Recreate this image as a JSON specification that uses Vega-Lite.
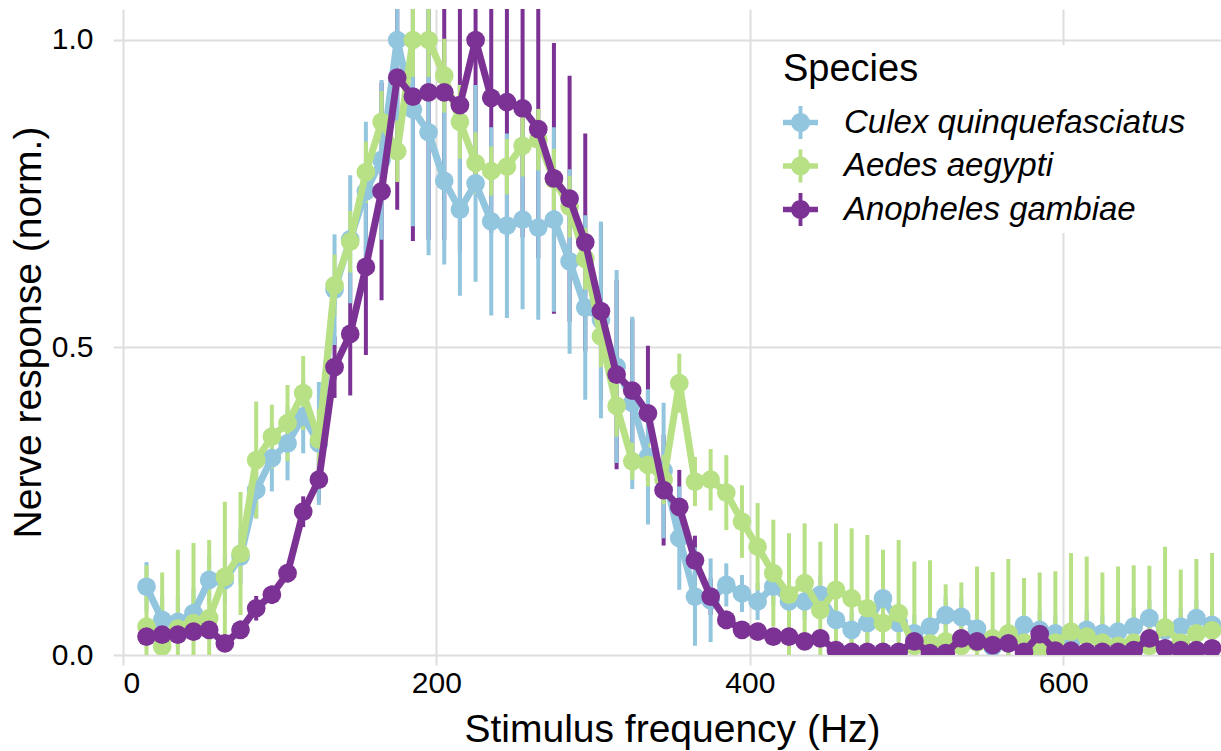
{
  "$schema": "https://vega.github.io/schema/vega-lite/v6.json",
  "width": 1098,
  "height": 646,
  "autosize": "none",
  "padding": {"left": 123, "top": 9, "right": 0, "bottom": 96},
  "background": "white",
  "config": {
    "view": {"stroke": null},
    "font": "Liberation Sans",
    "axis": {
      "grid": true, "gridColor": "#dedede", "gridWidth": 2, "domain": false,
      "ticks": true, "tickColor": "#dedede", "tickWidth": 2, "tickSize": 10,
      "labelFont": "Liberation Sans", "labelFontSize": 30, "labelColor": "#000000",
      "titleFont": "Liberation Sans", "titleFontSize": 39, "titleFontWeight": "normal", "titleColor": "#000000"
    },
    "axisX": {"labelPadding": 3, "titlePadding": 12},
    "axisY": {"labelPadding": 20, "titlePadding": 3}
  },
  "datasets": {
    "blue": [
      {"species":"Culex quinquefasciatus","f":15,"y":0.111,"lo":0.071,"hi":0.151},
      {"species":"Culex quinquefasciatus","f":25,"y":0.057,"lo":0.017,"hi":0.097},
      {"species":"Culex quinquefasciatus","f":35,"y":0.054,"lo":0.014,"hi":0.094},
      {"species":"Culex quinquefasciatus","f":45,"y":0.068,"lo":0.028,"hi":0.108},
      {"species":"Culex quinquefasciatus","f":55,"y":0.122,"lo":0.082,"hi":0.162},
      {"species":"Culex quinquefasciatus","f":65,"y":0.122,"lo":0.082,"hi":0.162},
      {"species":"Culex quinquefasciatus","f":75,"y":0.160,"lo":0.115,"hi":0.205},
      {"species":"Culex quinquefasciatus","f":85,"y":0.268,"lo":0.222,"hi":0.314},
      {"species":"Culex quinquefasciatus","f":95,"y":0.320,"lo":0.266,"hi":0.374},
      {"species":"Culex quinquefasciatus","f":105,"y":0.344,"lo":0.284,"hi":0.404},
      {"species":"Culex quinquefasciatus","f":115,"y":0.388,"lo":0.328,"hi":0.448},
      {"species":"Culex quinquefasciatus","f":125,"y":0.344,"lo":0.244,"hi":0.444},
      {"species":"Culex quinquefasciatus","f":135,"y":0.594,"lo":0.504,"hi":0.684},
      {"species":"Culex quinquefasciatus","f":145,"y":0.676,"lo":0.572,"hi":0.780},
      {"species":"Culex quinquefasciatus","f":155,"y":0.754,"lo":0.641,"hi":0.867},
      {"species":"Culex quinquefasciatus","f":165,"y":0.805,"lo":0.675,"hi":0.935},
      {"species":"Culex quinquefasciatus","f":175,"y":1.000,"lo":0.850,"hi":1.150},
      {"species":"Culex quinquefasciatus","f":185,"y":0.887,"lo":0.697,"hi":1.077},
      {"species":"Culex quinquefasciatus","f":195,"y":0.850,"lo":0.650,"hi":1.050},
      {"species":"Culex quinquefasciatus","f":205,"y":0.771,"lo":0.635,"hi":0.907},
      {"species":"Culex quinquefasciatus","f":215,"y":0.724,"lo":0.584,"hi":0.864},
      {"species":"Culex quinquefasciatus","f":225,"y":0.767,"lo":0.607,"hi":0.927},
      {"species":"Culex quinquefasciatus","f":235,"y":0.705,"lo":0.552,"hi":0.858},
      {"species":"Culex quinquefasciatus","f":245,"y":0.698,"lo":0.548,"hi":0.848},
      {"species":"Culex quinquefasciatus","f":255,"y":0.708,"lo":0.562,"hi":0.854},
      {"species":"Culex quinquefasciatus","f":265,"y":0.695,"lo":0.545,"hi":0.845},
      {"species":"Culex quinquefasciatus","f":275,"y":0.708,"lo":0.558,"hi":0.858},
      {"species":"Culex quinquefasciatus","f":285,"y":0.640,"lo":0.490,"hi":0.790},
      {"species":"Culex quinquefasciatus","f":295,"y":0.565,"lo":0.415,"hi":0.715},
      {"species":"Culex quinquefasciatus","f":305,"y":0.545,"lo":0.385,"hi":0.705},
      {"species":"Culex quinquefasciatus","f":315,"y":0.469,"lo":0.312,"hi":0.626},
      {"species":"Culex quinquefasciatus","f":325,"y":0.410,"lo":0.270,"hi":0.550},
      {"species":"Culex quinquefasciatus","f":335,"y":0.322,"lo":0.212,"hi":0.432},
      {"species":"Culex quinquefasciatus","f":345,"y":0.300,"lo":0.190,"hi":0.410},
      {"species":"Culex quinquefasciatus","f":355,"y":0.190,"lo":0.106,"hi":0.274},
      {"species":"Culex quinquefasciatus","f":365,"y":0.095,"lo":0.015,"hi":0.175},
      {"species":"Culex quinquefasciatus","f":375,"y":0.089,"lo":0.021,"hi":0.157},
      {"species":"Culex quinquefasciatus","f":385,"y":0.114,"lo":0.079,"hi":0.149},
      {"species":"Culex quinquefasciatus","f":395,"y":0.100,"lo":0.070,"hi":0.130},
      {"species":"Culex quinquefasciatus","f":405,"y":0.087,"lo":0.057,"hi":0.117},
      {"species":"Culex quinquefasciatus","f":415,"y":0.111,"lo":0.081,"hi":0.141},
      {"species":"Culex quinquefasciatus","f":425,"y":0.087,"lo":0.057,"hi":0.117},
      {"species":"Culex quinquefasciatus","f":435,"y":0.087,"lo":0.057,"hi":0.117},
      {"species":"Culex quinquefasciatus","f":445,"y":0.098,"lo":0.068,"hi":0.128},
      {"species":"Culex quinquefasciatus","f":455,"y":0.057,"lo":0.027,"hi":0.087},
      {"species":"Culex quinquefasciatus","f":465,"y":0.041,"lo":0.011,"hi":0.071},
      {"species":"Culex quinquefasciatus","f":475,"y":0.052,"lo":0.022,"hi":0.082},
      {"species":"Culex quinquefasciatus","f":485,"y":0.092,"lo":0.062,"hi":0.122},
      {"species":"Culex quinquefasciatus","f":495,"y":0.052,"lo":0.022,"hi":0.082},
      {"species":"Culex quinquefasciatus","f":505,"y":0.035,"lo":0.005,"hi":0.065},
      {"species":"Culex quinquefasciatus","f":515,"y":0.046,"lo":0.016,"hi":0.076},
      {"species":"Culex quinquefasciatus","f":525,"y":0.065,"lo":0.035,"hi":0.095},
      {"species":"Culex quinquefasciatus","f":535,"y":0.062,"lo":0.032,"hi":0.092},
      {"species":"Culex quinquefasciatus","f":545,"y":0.043,"lo":0.013,"hi":0.073},
      {"species":"Culex quinquefasciatus","f":555,"y":0.013,"lo":-0.017,"hi":0.043},
      {"species":"Culex quinquefasciatus","f":565,"y":0.020,"lo":-0.010,"hi":0.050},
      {"species":"Culex quinquefasciatus","f":575,"y":0.049,"lo":0.019,"hi":0.079},
      {"species":"Culex quinquefasciatus","f":585,"y":0.041,"lo":0.011,"hi":0.071},
      {"species":"Culex quinquefasciatus","f":595,"y":0.035,"lo":0.005,"hi":0.065},
      {"species":"Culex quinquefasciatus","f":605,"y":0.022,"lo":-0.008,"hi":0.052},
      {"species":"Culex quinquefasciatus","f":615,"y":0.041,"lo":0.011,"hi":0.071},
      {"species":"Culex quinquefasciatus","f":625,"y":0.035,"lo":0.005,"hi":0.065},
      {"species":"Culex quinquefasciatus","f":635,"y":0.038,"lo":0.008,"hi":0.068},
      {"species":"Culex quinquefasciatus","f":645,"y":0.046,"lo":0.016,"hi":0.076},
      {"species":"Culex quinquefasciatus","f":655,"y":0.060,"lo":0.030,"hi":0.090},
      {"species":"Culex quinquefasciatus","f":665,"y":0.040,"lo":0.010,"hi":0.070},
      {"species":"Culex quinquefasciatus","f":675,"y":0.046,"lo":0.016,"hi":0.076},
      {"species":"Culex quinquefasciatus","f":685,"y":0.060,"lo":0.030,"hi":0.090},
      {"species":"Culex quinquefasciatus","f":695,"y":0.049,"lo":0.019,"hi":0.079}
    ],
    "green": [
      {"species":"Aedes aegypti","f":15,"y":0.046,"lo":-0.054,"hi":0.146},
      {"species":"Aedes aegypti","f":25,"y":0.014,"lo":-0.106,"hi":0.134},
      {"species":"Aedes aegypti","f":35,"y":0.043,"lo":-0.085,"hi":0.171},
      {"species":"Aedes aegypti","f":45,"y":0.052,"lo":-0.078,"hi":0.182},
      {"species":"Aedes aegypti","f":55,"y":0.060,"lo":-0.067,"hi":0.187},
      {"species":"Aedes aegypti","f":65,"y":0.127,"lo":0.005,"hi":0.249},
      {"species":"Aedes aegypti","f":75,"y":0.165,"lo":0.065,"hi":0.265},
      {"species":"Aedes aegypti","f":85,"y":0.317,"lo":0.222,"hi":0.412},
      {"species":"Aedes aegypti","f":95,"y":0.355,"lo":0.303,"hi":0.407},
      {"species":"Aedes aegypti","f":105,"y":0.377,"lo":0.315,"hi":0.439},
      {"species":"Aedes aegypti","f":115,"y":0.426,"lo":0.366,"hi":0.486},
      {"species":"Aedes aegypti","f":125,"y":0.350,"lo":0.300,"hi":0.400},
      {"species":"Aedes aegypti","f":135,"y":0.601,"lo":0.551,"hi":0.651},
      {"species":"Aedes aegypti","f":145,"y":0.672,"lo":0.622,"hi":0.722},
      {"species":"Aedes aegypti","f":155,"y":0.785,"lo":0.735,"hi":0.835},
      {"species":"Aedes aegypti","f":165,"y":0.867,"lo":0.817,"hi":0.917},
      {"species":"Aedes aegypti","f":175,"y":0.819,"lo":0.769,"hi":0.869},
      {"species":"Aedes aegypti","f":185,"y":1.000,"lo":0.940,"hi":1.060},
      {"species":"Aedes aegypti","f":195,"y":1.000,"lo":0.940,"hi":1.060},
      {"species":"Aedes aegypti","f":205,"y":0.942,"lo":0.882,"hi":1.002},
      {"species":"Aedes aegypti","f":215,"y":0.867,"lo":0.807,"hi":0.927},
      {"species":"Aedes aegypti","f":225,"y":0.800,"lo":0.750,"hi":0.850},
      {"species":"Aedes aegypti","f":235,"y":0.787,"lo":0.747,"hi":0.827},
      {"species":"Aedes aegypti","f":245,"y":0.794,"lo":0.749,"hi":0.839},
      {"species":"Aedes aegypti","f":255,"y":0.828,"lo":0.778,"hi":0.878},
      {"species":"Aedes aegypti","f":265,"y":0.838,"lo":0.788,"hi":0.888},
      {"species":"Aedes aegypti","f":275,"y":0.773,"lo":0.723,"hi":0.823},
      {"species":"Aedes aegypti","f":285,"y":0.729,"lo":0.679,"hi":0.779},
      {"species":"Aedes aegypti","f":295,"y":0.644,"lo":0.594,"hi":0.694},
      {"species":"Aedes aegypti","f":305,"y":0.518,"lo":0.468,"hi":0.568},
      {"species":"Aedes aegypti","f":315,"y":0.405,"lo":0.355,"hi":0.455},
      {"species":"Aedes aegypti","f":325,"y":0.315,"lo":0.285,"hi":0.345},
      {"species":"Aedes aegypti","f":335,"y":0.309,"lo":0.274,"hi":0.344},
      {"species":"Aedes aegypti","f":345,"y":0.285,"lo":0.245,"hi":0.325},
      {"species":"Aedes aegypti","f":355,"y":0.442,"lo":0.394,"hi":0.490},
      {"species":"Aedes aegypti","f":365,"y":0.282,"lo":0.242,"hi":0.322},
      {"species":"Aedes aegypti","f":375,"y":0.285,"lo":0.235,"hi":0.335},
      {"species":"Aedes aegypti","f":385,"y":0.264,"lo":0.203,"hi":0.325},
      {"species":"Aedes aegypti","f":395,"y":0.217,"lo":0.158,"hi":0.276},
      {"species":"Aedes aegypti","f":405,"y":0.176,"lo":0.105,"hi":0.247},
      {"species":"Aedes aegypti","f":415,"y":0.133,"lo":0.046,"hi":0.220},
      {"species":"Aedes aegypti","f":425,"y":0.098,"lo":-0.002,"hi":0.198},
      {"species":"Aedes aegypti","f":435,"y":0.117,"lo":0.020,"hi":0.214},
      {"species":"Aedes aegypti","f":445,"y":0.073,"lo":-0.038,"hi":0.184},
      {"species":"Aedes aegypti","f":455,"y":0.106,"lo":-0.002,"hi":0.214},
      {"species":"Aedes aegypti","f":465,"y":0.092,"lo":-0.022,"hi":0.206},
      {"species":"Aedes aegypti","f":475,"y":0.076,"lo":-0.043,"hi":0.195},
      {"species":"Aedes aegypti","f":485,"y":0.052,"lo":-0.067,"hi":0.171},
      {"species":"Aedes aegypti","f":495,"y":0.068,"lo":-0.051,"hi":0.187},
      {"species":"Aedes aegypti","f":505,"y":0.015,"lo":-0.122,"hi":0.152},
      {"species":"Aedes aegypti","f":515,"y":0.019,"lo":-0.116,"hi":0.154},
      {"species":"Aedes aegypti","f":525,"y":0.022,"lo":-0.071,"hi":0.115},
      {"species":"Aedes aegypti","f":535,"y":0.015,"lo":-0.088,"hi":0.118},
      {"species":"Aedes aegypti","f":545,"y":0.020,"lo":-0.104,"hi":0.144},
      {"species":"Aedes aegypti","f":555,"y":0.027,"lo":-0.081,"hi":0.135},
      {"species":"Aedes aegypti","f":565,"y":0.035,"lo":-0.086,"hi":0.156},
      {"species":"Aedes aegypti","f":575,"y":0.020,"lo":-0.085,"hi":0.125},
      {"species":"Aedes aegypti","f":585,"y":0.010,"lo":-0.114,"hi":0.134},
      {"species":"Aedes aegypti","f":595,"y":0.020,"lo":-0.096,"hi":0.136},
      {"species":"Aedes aegypti","f":605,"y":0.038,"lo":-0.090,"hi":0.166},
      {"species":"Aedes aegypti","f":615,"y":0.030,"lo":-0.100,"hi":0.160},
      {"species":"Aedes aegypti","f":625,"y":0.020,"lo":-0.094,"hi":0.134},
      {"species":"Aedes aegypti","f":635,"y":0.015,"lo":-0.114,"hi":0.144},
      {"species":"Aedes aegypti","f":645,"y":0.020,"lo":-0.106,"hi":0.146},
      {"species":"Aedes aegypti","f":655,"y":0.015,"lo":-0.115,"hi":0.145},
      {"species":"Aedes aegypti","f":665,"y":0.045,"lo":-0.086,"hi":0.176},
      {"species":"Aedes aegypti","f":675,"y":0.020,"lo":-0.099,"hi":0.139},
      {"species":"Aedes aegypti","f":685,"y":0.035,"lo":-0.086,"hi":0.156},
      {"species":"Aedes aegypti","f":695,"y":0.040,"lo":-0.086,"hi":0.166}
    ],
    "purple": [
      {"species":"Anopheles gambiae","f":15,"y":0.030,"lo":0.020,"hi":0.040},
      {"species":"Anopheles gambiae","f":25,"y":0.033,"lo":0.023,"hi":0.043},
      {"species":"Anopheles gambiae","f":35,"y":0.033,"lo":0.023,"hi":0.043},
      {"species":"Anopheles gambiae","f":45,"y":0.038,"lo":0.028,"hi":0.048},
      {"species":"Anopheles gambiae","f":55,"y":0.041,"lo":0.031,"hi":0.051},
      {"species":"Anopheles gambiae","f":65,"y":0.019,"lo":0.007,"hi":0.031},
      {"species":"Anopheles gambiae","f":75,"y":0.041,"lo":0.026,"hi":0.056},
      {"species":"Anopheles gambiae","f":85,"y":0.076,"lo":0.056,"hi":0.096},
      {"species":"Anopheles gambiae","f":95,"y":0.098,"lo":0.083,"hi":0.113},
      {"species":"Anopheles gambiae","f":105,"y":0.133,"lo":0.118,"hi":0.148},
      {"species":"Anopheles gambiae","f":115,"y":0.233,"lo":0.208,"hi":0.258},
      {"species":"Anopheles gambiae","f":125,"y":0.285,"lo":0.250,"hi":0.320},
      {"species":"Anopheles gambiae","f":135,"y":0.468,"lo":0.418,"hi":0.518},
      {"species":"Anopheles gambiae","f":145,"y":0.522,"lo":0.422,"hi":0.622},
      {"species":"Anopheles gambiae","f":155,"y":0.631,"lo":0.488,"hi":0.774},
      {"species":"Anopheles gambiae","f":165,"y":0.754,"lo":0.577,"hi":0.931},
      {"species":"Anopheles gambiae","f":175,"y":0.939,"lo":0.724,"hi":1.154},
      {"species":"Anopheles gambiae","f":185,"y":0.908,"lo":0.673,"hi":1.143},
      {"species":"Anopheles gambiae","f":195,"y":0.915,"lo":0.675,"hi":1.155},
      {"species":"Anopheles gambiae","f":205,"y":0.915,"lo":0.675,"hi":1.155},
      {"species":"Anopheles gambiae","f":215,"y":0.894,"lo":0.654,"hi":1.134},
      {"species":"Anopheles gambiae","f":225,"y":1.000,"lo":0.780,"hi":1.220},
      {"species":"Anopheles gambiae","f":235,"y":0.906,"lo":0.686,"hi":1.126},
      {"species":"Anopheles gambiae","f":245,"y":0.899,"lo":0.679,"hi":1.119},
      {"species":"Anopheles gambiae","f":255,"y":0.889,"lo":0.679,"hi":1.099},
      {"species":"Anopheles gambiae","f":265,"y":0.855,"lo":0.645,"hi":1.065},
      {"species":"Anopheles gambiae","f":275,"y":0.775,"lo":0.555,"hi":0.995},
      {"species":"Anopheles gambiae","f":285,"y":0.742,"lo":0.542,"hi":0.942},
      {"species":"Anopheles gambiae","f":295,"y":0.671,"lo":0.494,"hi":0.848},
      {"species":"Anopheles gambiae","f":305,"y":0.559,"lo":0.416,"hi":0.702},
      {"species":"Anopheles gambiae","f":315,"y":0.456,"lo":0.302,"hi":0.610},
      {"species":"Anopheles gambiae","f":325,"y":0.430,"lo":0.314,"hi":0.546},
      {"species":"Anopheles gambiae","f":335,"y":0.393,"lo":0.283,"hi":0.503},
      {"species":"Anopheles gambiae","f":345,"y":0.268,"lo":0.178,"hi":0.358},
      {"species":"Anopheles gambiae","f":355,"y":0.241,"lo":0.181,"hi":0.301},
      {"species":"Anopheles gambiae","f":365,"y":0.154,"lo":0.114,"hi":0.194},
      {"species":"Anopheles gambiae","f":375,"y":0.095,"lo":0.065,"hi":0.125},
      {"species":"Anopheles gambiae","f":385,"y":0.057,"lo":0.042,"hi":0.072},
      {"species":"Anopheles gambiae","f":395,"y":0.041,"lo":0.031,"hi":0.051},
      {"species":"Anopheles gambiae","f":405,"y":0.038,"lo":0.028,"hi":0.048},
      {"species":"Anopheles gambiae","f":415,"y":0.030,"lo":0.020,"hi":0.040},
      {"species":"Anopheles gambiae","f":425,"y":0.030,"lo":0.020,"hi":0.040},
      {"species":"Anopheles gambiae","f":435,"y":0.022,"lo":0.012,"hi":0.032},
      {"species":"Anopheles gambiae","f":445,"y":0.027,"lo":0.017,"hi":0.037},
      {"species":"Anopheles gambiae","f":455,"y":0.008,"lo":-0.002,"hi":0.018},
      {"species":"Anopheles gambiae","f":465,"y":0.005,"lo":-0.005,"hi":0.015},
      {"species":"Anopheles gambiae","f":475,"y":0.005,"lo":-0.005,"hi":0.015},
      {"species":"Anopheles gambiae","f":485,"y":0.005,"lo":-0.005,"hi":0.015},
      {"species":"Anopheles gambiae","f":495,"y":0.005,"lo":-0.005,"hi":0.015},
      {"species":"Anopheles gambiae","f":505,"y":0.022,"lo":0.012,"hi":0.032},
      {"species":"Anopheles gambiae","f":515,"y":0.003,"lo":-0.007,"hi":0.013},
      {"species":"Anopheles gambiae","f":525,"y":0.003,"lo":-0.007,"hi":0.013},
      {"species":"Anopheles gambiae","f":535,"y":0.027,"lo":0.017,"hi":0.037},
      {"species":"Anopheles gambiae","f":545,"y":0.022,"lo":0.012,"hi":0.032},
      {"species":"Anopheles gambiae","f":555,"y":0.016,"lo":0.006,"hi":0.026},
      {"species":"Anopheles gambiae","f":565,"y":0.019,"lo":0.009,"hi":0.029},
      {"species":"Anopheles gambiae","f":575,"y":0.005,"lo":-0.005,"hi":0.015},
      {"species":"Anopheles gambiae","f":585,"y":0.034,"lo":0.024,"hi":0.044},
      {"species":"Anopheles gambiae","f":595,"y":0.007,"lo":-0.003,"hi":0.017},
      {"species":"Anopheles gambiae","f":605,"y":0.007,"lo":-0.003,"hi":0.017},
      {"species":"Anopheles gambiae","f":615,"y":0.005,"lo":-0.005,"hi":0.015},
      {"species":"Anopheles gambiae","f":625,"y":0.005,"lo":-0.005,"hi":0.015},
      {"species":"Anopheles gambiae","f":635,"y":0.005,"lo":-0.005,"hi":0.015},
      {"species":"Anopheles gambiae","f":645,"y":0.008,"lo":-0.002,"hi":0.018},
      {"species":"Anopheles gambiae","f":655,"y":0.027,"lo":0.017,"hi":0.037},
      {"species":"Anopheles gambiae","f":665,"y":0.011,"lo":0.001,"hi":0.021},
      {"species":"Anopheles gambiae","f":675,"y":0.008,"lo":-0.002,"hi":0.018},
      {"species":"Anopheles gambiae","f":685,"y":0.008,"lo":-0.002,"hi":0.018},
      {"species":"Anopheles gambiae","f":695,"y":0.011,"lo":0.001,"hi":0.021}
    ]
  },
  "encoding": {
    "x": {
      "field": "f", "type": "quantitative",
      "scale": {"domain": [0, 700.7], "nice": false, "zero": false},
      "axis": {"values": [0, 200, 400, 600], "title": "Stimulus frequency (Hz)"}
    },
    "y": {
      "field": "y", "type": "quantitative",
      "scale": {"domain": [0, 1.0504], "nice": false, "zero": false},
      "axis": {"values": [0, 0.5, 1], "format": ".1f"},
      "title": "Nerve response (norm.)"
    },
    "color": {
      "field": "species", "type": "nominal",
      "scale": {
        "domain": ["Culex quinquefasciatus", "Aedes aegypti", "Anopheles gambiae"],
        "range": ["#92c5de", "#b8e186", "#7b3294"]
      },
      "legend": {
        "title": "Species",
        "orient": "none", "legendX": 654, "legendY": 36,
        "fillColor": "white", "padding": 6,
        "titleFont": "Liberation Sans", "titleFontSize": 38, "titleFontWeight": "normal", "titleColor": "#000000", "titlePadding": 16,
        "labelFont": "Liberation Sans", "labelFontSize": 33, "labelFontStyle": "italic", "labelColor": "#000000", "labelOffset": 26, "labelLimit": 0,
        "symbolType": "M-1,-0.16L1,-0.16L1,0.16L-1,0.16Z M-0.11,-0.94L0.11,-0.94L0.11,0.94L-0.11,0.94Z M0.54,0A0.54,0.54 0 1,1 -0.54,0A0.54,0.54 0 1,1 0.54,0Z",
        "symbolSize": 1225, "symbolStrokeWidth": 0, "symbolOpacity": 1, "rowPadding": 8.5,
        "encode": {"symbols": {"update": {"fill": {"scale": "color", "field": "value"}, "strokeWidth": {"value": 0}, "opacity": {"value": 1}}}}
      }
    }
  },
  "layer": [
    {
      "data": {"name": "purple"},
      "mark": {"type": "rule", "strokeWidth": 4, "clip": true},
      "encoding": {
        "y": {"field": "lo", "type": "quantitative", "scale": {"domain": [0, 1.0504], "nice": false, "zero": false}, "title": "Nerve response (norm.)"},
        "y2": {"field": "hi"}
      }
    },
    {
      "data": {"name": "blue"},
      "mark": {"type": "rule", "strokeWidth": 4, "clip": true},
      "encoding": {
        "y": {"field": "lo", "type": "quantitative", "scale": {"domain": [0, 1.0504], "nice": false, "zero": false}, "title": "Nerve response (norm.)"},
        "y2": {"field": "hi"}
      }
    },
    {
      "data": {"name": "green"},
      "mark": {"type": "rule", "strokeWidth": 4, "clip": true},
      "encoding": {
        "y": {"field": "lo", "type": "quantitative", "scale": {"domain": [0, 1.0504], "nice": false, "zero": false}, "title": "Nerve response (norm.)"},
        "y2": {"field": "hi"}
      }
    },
    {"data": {"name": "blue"}, "mark": {"type": "line", "strokeWidth": 7, "strokeJoin": "round", "clip": true}, "encoding": {}},
    {"data": {"name": "blue"}, "mark": {"type": "point", "filled": true, "size": 350, "opacity": 1, "strokeWidth": 0, "clip": true}, "encoding": {}},
    {"data": {"name": "green"}, "mark": {"type": "line", "strokeWidth": 7, "strokeJoin": "round", "clip": true}, "encoding": {}},
    {"data": {"name": "green"}, "mark": {"type": "point", "filled": true, "size": 350, "opacity": 1, "strokeWidth": 0, "clip": true}, "encoding": {}},
    {"data": {"name": "purple"}, "mark": {"type": "line", "strokeWidth": 7, "strokeJoin": "round", "clip": true}, "encoding": {}},
    {"data": {"name": "purple"}, "mark": {"type": "point", "filled": true, "size": 350, "opacity": 1, "strokeWidth": 0, "clip": true}, "encoding": {}}
  ]
}
